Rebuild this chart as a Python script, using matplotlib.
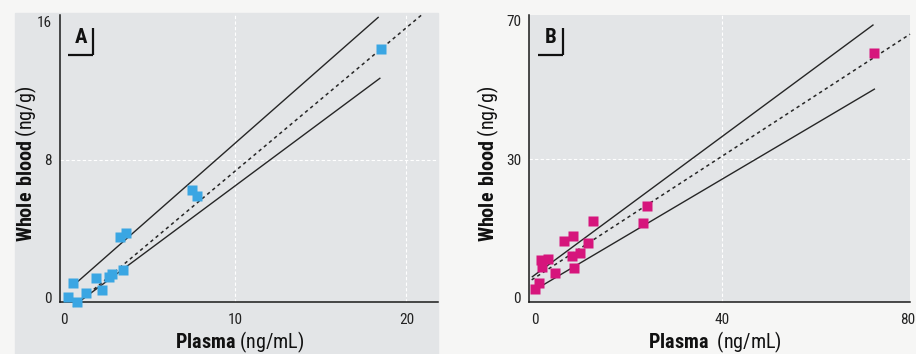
import matplotlib
matplotlib.use("Agg")
import matplotlib.pyplot as plt
import matplotlib.transforms as mtransforms
from matplotlib import font_manager
from matplotlib.patches import Rectangle

# pick a narrow sans if there is one installed
names = {f.name for f in font_manager.fontManager.ttflist}
FONT = "Liberation Sans"
for cand in ("Liberation Sans Narrow", "Roboto Condensed", "Open Sans Condensed", "Arial Narrow"):
    if cand in names:
        FONT = cand
        break

plt.rcParams["font.family"] = [FONT, "DejaVu Sans"]
plt.rcParams["mathtext.fontset"] = "custom"
plt.rcParams["mathtext.rm"] = FONT
plt.rcParams["mathtext.bf"] = FONT + ":bold"

# Panel A: values
a_plasma = [0.28, 0.77, 0.57, 1.29, 1.90, 2.26, 2.65, 2.85, 3.49, 3.29, 3.63, 7.51, 7.80, 18.5]
a_blood = [0.02, -0.23, 0.83, 0.29, 1.16, 0.45, 1.20, 1.40, 1.60, 3.50, 3.73, 6.24, 5.90, 14.4]
a_fit_x = [0.57, 21.0]
a_fit_y = [-0.52, 16.49]
a_upper_x = [0.83, 18.35]
a_upper_y = [0.93, 16.25]
a_lower_x = [1.06, 18.45]
a_lower_y = [-0.13, 12.72]
a_xticks = [0, 10, 20]
a_yticks = [0, 8, 16]

# Panel B
b_plasma = [-0.06, 0.79, 1.36, 1.50, 2.79, 4.20, 6.12, 8.04, 7.90, 8.40, 9.68, 11.24, 12.39, 23.05, 24.0, 72.4]
b_blood = [2.2, 3.64, 9.5, 7.7, 9.9, 6.3, 14.3, 15.7, 10.5, 7.4, 11.2, 13.9, 19.4, 18.8, 23.25, 61.9]
b_fit_x = [-0.7, 80.0]
b_fit_y = [4.5, 66.6]
b_upper_x = [-0.55, 72.1]
b_upper_y = [5.3, 68.9]
b_lower_x = [0.15, 72.4]
b_lower_y = [2.1, 52.7]
b_xticks = [0, 40, 80]
b_yticks = [0, 35, 70]
b_yticklabels = ["0", "30", "70"]

W, H = 916, 354
fig = plt.figure(figsize=(W / 100, H / 100), dpi=100)
fig.patch.set_facecolor("#f6f6f5")

BG = "#e3e5e7"
# grey page area behind panel A
fig.patches.append(Rectangle((15 / W, 0), (438 - 15) / W, (H - 12.7) / H,
                             transform=fig.transFigure, color=BG, zorder=-5))


def panel(rect, xs, ys, color, fit, upper, lower, xlim, ylim, xticks, yticks, yticklabels,
          grid_x, grid_y, letter, xlabel, ylab_px, xlab_px):
    ax = fig.add_axes(rect)
    ax.set_facecolor(BG)
    for s in ("top", "right"):
        ax.spines[s].set_visible(False)
    for s in ("left", "bottom"):
        ax.spines[s].set_linewidth(1.1)
        ax.spines[s].set_color("#1a1a1a")
    ax.set_xlim(*xlim)
    ax.set_ylim(*ylim)
    ax.set_xticks(xticks)
    ax.set_yticks(yticks)
    ax.set_yticklabels(yticklabels)
    ax.tick_params(length=0, labelsize=11, colors="#222222")
    ax.tick_params(axis="x", pad=8)
    ax.tick_params(axis="y", pad=6)
    for g in grid_x:
        ax.axvline(g, color="white", lw=0.8, ls=(0, (3, 2)), zorder=1)
    for g in grid_y:
        ax.axhline(g, color="white", lw=0.8, ls=(0, (3, 2)), zorder=1)

    ax.plot(*upper, color="#262626", lw=1.0, zorder=2, clip_on=False)
    ax.plot(*lower, color="#262626", lw=1.0, zorder=2, clip_on=False)
    ax.plot(*fit, color="#262626", lw=1.1, ls=(0, (2.2, 2.2)), zorder=2, clip_on=False)
    ax.plot(xs, ys, "s", color=color, ms=6.8, mec="none", zorder=3, clip_on=False)

    ax.text(0.04, 0.92, letter, transform=ax.transAxes, fontsize=15, fontweight="bold",
            ha="left", va="center", color="#111111")
    ax.plot([0.022, 0.088], [0.86, 0.86], transform=ax.transAxes, color="#111111", lw=1.6,
            solid_capstyle="butt", clip_on=False)
    ax.plot([0.088, 0.088], [0.86, 0.955], transform=ax.transAxes, color="#111111", lw=1.6,
            solid_capstyle="butt", clip_on=False)

    fig.text(ylab_px[0] / W, 1 - ylab_px[1] / H, r"$\mathbf{Whole\ blood}$ (ng/g)",
             rotation=90, fontsize=14.5, ha="center", va="center", color="#111111")
    fig.text(xlab_px[0] / W, 1 - xlab_px[1] / H, xlabel,
             fontsize=14.5, ha="center", va="center", color="#111111")
    return ax


bottom = (H - 302) / H
height = (302 - 15) / H

panel([60 / W, bottom, 378 / W, height], a_plasma, a_blood, "#3aa6e3",
      (a_fit_x, a_fit_y), (a_upper_x, a_upper_y), (a_lower_x, a_lower_y),
      (-0.2, 21.84), (-0.25, 16.39), a_xticks, a_yticks, [str(t) for t in a_yticks],
      [10, 20], [8], "A", r"$\mathbf{Plasma}$ (ng/mL)", (26, 164), (240, 342))

axb = panel([529.3 / W, bottom, (910 - 529.3) / W, height], b_plasma, b_blood, "#d6157c",
            (b_fit_x, b_fit_y), (b_upper_x, b_upper_y), (b_lower_x, b_lower_y),
            (-1.2, 80), (-1.09, 71.44), b_xticks, b_yticks, b_yticklabels,
            [40], [35], "B", r"$\mathbf{Plasma}$  (ng/mL)", (488, 164), (715, 342))

# the last tick label sits right at the page edge
last = axb.get_xticklabels()[-1]
last.set_horizontalalignment("right")
last.set_transform(last.get_transform() + mtransforms.ScaledTranslation(5 / 100, 0, fig.dpi_scale_trans))

fig.savefig("out.png", dpi=100, facecolor=fig.get_facecolor())
